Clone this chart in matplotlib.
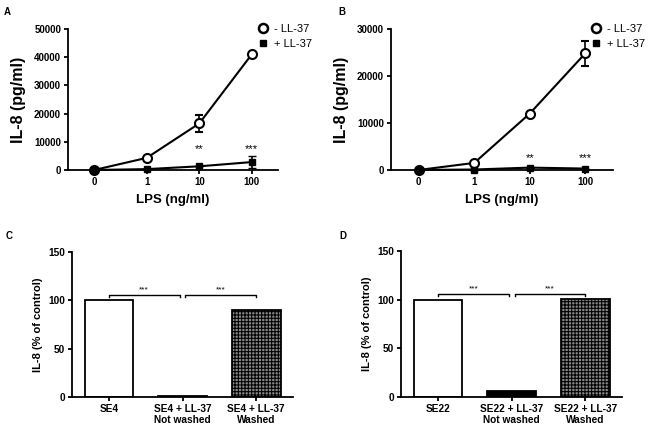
import numpy as np
import matplotlib.pyplot as plt
from matplotlib.lines import Line2D

plt.rcParams['font.family'] = ['Liberation Sans', 'DejaVu Sans']
plt.rcParams['hatch.linewidth'] = 0.8

# data
lps = ['0', '1', '10', '100']
a_minus = [0, 4300, 16500, 41000]
a_minus_err = [0, 0, 3000, 0]
a_plus = [0, 300, 1300, 2800]
a_plus_err = [0, 0, 0, 2000]
b_minus = [0, 1500, 12000, 24800]
b_minus_err = [0, 0, 0, 2700]
b_plus = [0, 100, 500, 300]
b_plus_err = [0, 0, 0, 0]

c_labels = ['SE4', 'SE4 + LL-37\nNot washed', 'SE4 + LL-37\nWashed']
c_vals = [100, 1, 90]
d_labels = ['SE22', 'SE22 + LL-37\nNot washed', 'SE22 + LL-37\nWashed']
d_vals = [100, 6, 101]


def style_ax(ax, size=7):
    ax.spines['top'].set_visible(False)
    ax.spines['right'].set_visible(False)
    ax.spines['left'].set_linewidth(1.3)
    ax.spines['bottom'].set_linewidth(1.3)
    ax.tick_params(width=1.3, length=3, labelsize=size, pad=2)
    for t in ax.get_xticklabels() + ax.get_yticklabels():
        t.set_fontweight('bold')


def line_panel(ax, ymax, step, minus, minus_err, plus, plus_err, stars_y):
    x = np.arange(len(lps))
    ax.errorbar(x, minus, yerr=minus_err, color='black', lw=1.5, marker='o',
                mfc='white', mec='black', mew=1.5, ms=6.5, capsize=3, elinewidth=1.2,
                clip_on=False, zorder=3)
    ax.errorbar(x, plus, yerr=plus_err, color='black', lw=1.5, marker='s',
                ms=5, capsize=3, elinewidth=1.2, clip_on=False, zorder=3)
    ax.set_xlim(-0.5, 3.5)
    ax.set_ylim(0, ymax)
    ax.set_yticks(np.arange(0, ymax + 1, step))
    ax.set_xticks(x)
    ax.set_xticklabels(lps)
    ax.set_xlabel('LPS (ng/ml)', fontsize=9.5, fontweight='bold', labelpad=5)
    ax.set_ylabel('IL-8 (pg/ml)', fontsize=11.5, fontweight='bold', labelpad=6)
    ax.text(2, stars_y[0], '**', ha='center', fontsize=8)
    ax.text(3, stars_y[1], '***', ha='center', fontsize=8)
    handles = [Line2D([], [], ls='none', marker='o', mfc='white', mec='black', mew=1.8, ms=6.5),
               Line2D([], [], ls='none', marker='s', color='black', ms=5)]
    ax.legend(handles, ['- LL-37', '+ LL-37'], loc='upper left', bbox_to_anchor=(0.88, 1.07),
              frameon=False, fontsize=8, handlelength=1.0, handletextpad=0.5,
              borderaxespad=0, labelspacing=0.45)
    style_ax(ax)


def bar_panel(ax, labels, vals):
    x = np.arange(len(vals))
    faces = ['white', 'black', '#8a8a8a']
    hatches = [None, None, '+++++']
    for xi, v, fc, h in zip(x, vals, faces, hatches):
        ax.bar(xi, v, width=0.66, color=fc, edgecolor='black', linewidth=1.3, hatch=h)
    ax.set_xlim(-0.5, 2.5)
    ax.set_ylim(0, 150)
    ax.set_yticks([0, 50, 100, 150])
    ax.set_xticks(x)
    ax.set_xticklabels(labels, linespacing=1.1)
    ax.set_ylabel('IL-8 (% of control)', fontsize=8, fontweight='bold')
    for x0, x1 in [(0, 0.96), (1.04, 2)]:
        ax.plot([x0, x0, x1, x1], [104, 106, 106, 104], color='black', lw=1)
        ax.text((x0 + x1) / 2, 109, '***', ha='center', fontsize=6)
    style_ax(ax, 7.3)


fig = plt.figure(figsize=(6.49, 4.26), dpi=100)
axA = fig.add_axes([0.1048, 0.601, 0.3236, 0.331])
axB = fig.add_axes([0.6025, 0.601, 0.342, 0.331])
axC = fig.add_axes([0.111, 0.068, 0.3405, 0.340])
axD = fig.add_axes([0.618, 0.068, 0.3405, 0.343])

line_panel(axA, 50000, 10000, a_minus, a_minus_err, a_plus, a_plus_err, (6500, 6500))
line_panel(axB, 30000, 10000, b_minus, b_minus_err, b_plus, b_plus_err, (1800, 1800))
bar_panel(axC, c_labels, c_vals)
bar_panel(axD, d_labels, d_vals)

for lab, x, y in [('A', 0.006, 0.965), ('B', 0.521, 0.965), ('C', 0.008, 0.44), ('D', 0.523, 0.44)]:
    fig.text(x, y, lab, fontsize=7, fontweight='bold')

fig.savefig('out.png', dpi=100)
